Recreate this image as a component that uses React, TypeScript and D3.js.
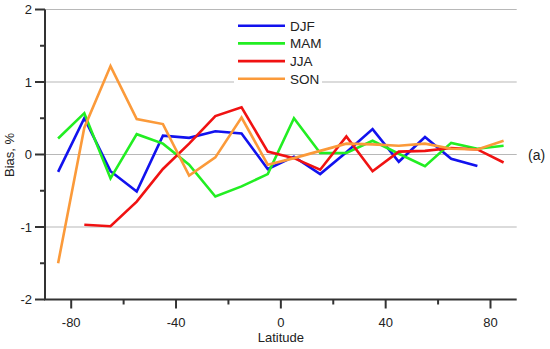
import React from "react";
import * as d3 from "d3";

const latitudes = [-85, -75, -65, -55, -45, -35, -25, -15, -5, 5, 15, 25, 35, 45, 55, 65, 75, 85];
const djf = [-0.24, 0.5, -0.23, -0.51, 0.26, 0.23, 0.32, 0.29, -0.2, -0.03, -0.27, 0.03, 0.35, -0.1, 0.24, -0.06, -0.16, null];
const mam = [0.22, 0.57, -0.33, 0.28, 0.15, -0.14, -0.58, -0.44, -0.27, 0.5, 0.02, 0.02, 0.19, 0.01, -0.16, 0.16, 0.08, 0.12];
const jja = [null, -0.97, -0.99, -0.65, -0.2, 0.15, 0.53, 0.65, 0.04, -0.05, -0.21, 0.25, -0.23, 0.04, 0.05, 0.09, 0.07, -0.11];
const son = [-1.5, 0.37, 1.22, 0.49, 0.42, -0.29, -0.04, 0.51, -0.14, -0.05, 0.05, 0.15, 0.14, 0.12, 0.15, 0.08, 0.07, 0.19];

const seriesNames = ["DJF", "MAM", "JJA", "SON"];
const seriesColors = ["#1212ee", "#22ee22", "#f01212", "#fb9a3a"];
const seriesValues = [djf, mam, jja, son];

const xMajorTicks = [-80, -40, 0, 40, 80];
const xMinorTicks = [-60, -20, 20, 60];
const yMajorTicks = [-2, -1, 0, 1, 2];
const yMinorTicks = [-1.5, -0.5, 0.5, 1.5];
const gridValues = [-1, 0, 1, 2];

export default function App() {
  const W = 550, H = 349;
  const x = d3.scaleLinear().domain([-90, 90]).range([45, 516.7]);
  const y = d3.scaleLinear().domain([-2, 2]).range([299.5, 9.5]);
  const font = "'Liberation Sans', Arial, sans-serif";
  const axisColor = "#333";

  const line = d3
    .line<[number, number | null]>()
    .defined((d) => d[1] !== null)
    .x((d) => x(d[0]))
    .y((d) => y(d[1] as number));

  const [x0, x1] = x.range();
  const yBottom = y(-2);

  return (
    <svg width={W} height={H} style={{ position: "absolute", left: 0, top: 0, background: "#fff" }}>
      {gridValues.map((g) => (
        <line key={"g" + g} x1={x0} x2={x1} y1={y(g)} y2={y(g)} stroke="#b8b8b8" strokeWidth={1.2} />
      ))}
      {seriesValues.map((vals, i) => (
        <path
          key={seriesNames[i]}
          d={line(latitudes.map((lat, j) => [lat, vals[j]] as [number, number | null])) || ""}
          fill="none"
          stroke={seriesColors[i]}
          strokeWidth={2.6}
          strokeLinejoin="miter"
        />
      ))}
      {/* axes */}
      <line x1={x0} x2={x0} y1={y(2)} y2={yBottom} stroke={axisColor} strokeWidth={2} />
      <line x1={x0 - 1} x2={x1} y1={yBottom} y2={yBottom} stroke={axisColor} strokeWidth={2} />
      {yMajorTicks.map((t) => (
        <g key={"ym" + t}>
          <line x1={x0 - 10} x2={x0} y1={y(t)} y2={y(t)} stroke={axisColor} strokeWidth={2} />
          <text x={32} y={y(t) + 4.7} textAnchor="end" fontFamily={font} fontSize={13} fill="#222">
            {t}
          </text>
        </g>
      ))}
      {yMinorTicks.map((t) => (
        <line key={"yn" + t} x1={x0 - 5} x2={x0} y1={y(t)} y2={y(t)} stroke={axisColor} strokeWidth={2} />
      ))}
      {xMajorTicks.map((t) => (
        <g key={"xm" + t}>
          <line x1={x(t)} x2={x(t)} y1={yBottom} y2={yBottom + 9} stroke={axisColor} strokeWidth={2} />
          <text x={x(t)} y={326.5} textAnchor="middle" fontFamily={font} fontSize={13} fill="#222">
            {t}
          </text>
        </g>
      ))}
      {xMinorTicks.map((t) => (
        <line key={"xn" + t} x1={x(t)} x2={x(t)} y1={yBottom} y2={yBottom + 5} stroke={axisColor} strokeWidth={2} />
      ))}
      <text x={x(0)} y={341.5} textAnchor="middle" fontFamily={font} fontSize={13} fill="#222">
        Latitude
      </text>
      <text
        transform={`translate(13.5,155) rotate(-90)`}
        textAnchor="middle"
        fontFamily={font}
        fontSize={13}
        fill="#222"
      >
        Bias, %
      </text>
      <text x={528} y={159.5} fontFamily={font} fontSize={14} fill="#222">
        (a)
      </text>
      {/* legend */}
      <rect x={234} y={14} width={88} height={72} fill="#fff" />
      {seriesNames.map((name, i) => {
        const cy = 25.7 + i * 17.7;
        return (
          <g key={"lg" + name}>
            <line x1={238} x2={285} y1={cy} y2={cy} stroke={seriesColors[i]} strokeWidth={2.6} />
            <text x={290} y={cy + 4.8} fontFamily={font} fontSize={13.5} fill="#222">
              {name}
            </text>
          </g>
        );
      })}
    </svg>
  );
}
